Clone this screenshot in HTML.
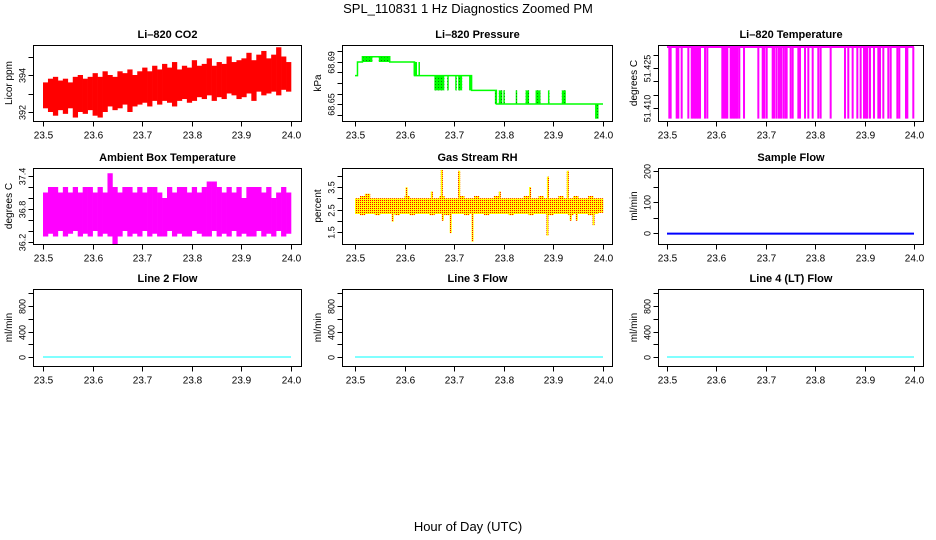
<!DOCTYPE html>
<html><head><meta charset="utf-8"><style>
html,body{margin:0;padding:0;background:#fff;}
svg{display:block;font-family:"Liberation Sans",sans-serif;}
</style></head><body>
<svg id="chart" width="936" height="540" viewBox="0 0 936 540" xmlns="http://www.w3.org/2000/svg">
<defs>
<pattern id="dots" width="2" height="2" patternUnits="userSpaceOnUse"><rect x="0" y="0" width="1" height="1" fill="#ff0000"/></pattern>
<pattern id="gdots" width="3" height="3" patternUnits="userSpaceOnUse"><rect width="1" height="1" fill="#008800"/></pattern>
</defs>
<text x="468" y="13" text-anchor="middle" font-size="13">SPL_110831  1 Hz Diagnostics Zoomed PM</text>
<text x="468" y="531" text-anchor="middle" font-size="13">Hour of Day (UTC)</text>
</svg>
<script>
// ---- data ----
const xTicks = [23.5, 23.6, 23.7, 23.8, 23.9, 24.0];
const xTickLabels = ["23.5", "23.6", "23.7", "23.8", "23.9", "24.0"];

const co2Lo = [392.2,392.0,391.8,392.1,391.9,392.2,391.7,392.0,391.9,392.1,391.8,391.7,392.0,392.3,392.1,392.2,392.4,392.0,392.3,392.4,392.5,392.3,392.6,392.4,392.6,392.5,392.3,392.6,392.7,392.5,392.6,392.8,392.7,392.9,392.6,392.8,392.7,393.0,392.9,392.7,392.8,393.0,392.6,393.1,392.9,393.0,393.1,392.9,393.2,393.1];
const co2Hi = [393.6,393.8,393.9,393.7,393.8,393.6,393.9,394.0,393.8,393.9,394.1,393.9,394.2,394.0,393.9,394.2,394.1,394.3,394.0,394.2,394.4,394.2,394.5,394.3,394.6,394.4,394.7,394.3,394.5,394.4,394.8,394.5,394.6,394.9,394.5,394.7,394.6,395.0,394.7,394.8,394.9,395.2,394.8,395.1,395.3,394.9,395.1,395.5,395.0,394.7];
const co2Ticks = [392, 393, 394, 395];
const co2TickLabels = ["392", "", "394", ""];

const presStepT = [23.500, 23.505, 23.515, 23.570, 23.620, 23.735, 23.785, 24.000];
const presStepV = [68.677, 68.690, 68.695, 68.690, 68.677, 68.663, 68.650, 68.650];
const presBlkT0 = [23.515,23.548,23.618,23.628,23.660,23.686,23.702,23.708,23.730,23.782,23.790,23.799,23.824,23.844,23.864,23.889,23.917,23.984];
const presBlkT1 = [23.535,23.570,23.625,23.631,23.680,23.689,23.705,23.716,23.736,23.786,23.797,23.802,23.826,23.851,23.874,23.891,23.925,23.991];
const presBlkLo = [68.690,68.690,68.677,68.677,68.663,68.663,68.663,68.663,68.663,68.650,68.650,68.650,68.650,68.650,68.650,68.650,68.650,68.636];
const presBlkHi = [68.695,68.695,68.690,68.690,68.677,68.677,68.677,68.677,68.677,68.663,68.663,68.663,68.663,68.663,68.663,68.663,68.663,68.650];
const presTicks = [68.64,68.65,68.66,68.67,68.68,68.69,68.70];
const presTickLabels = ["","68.65","","","","68.69",""];

const tempTop = 51.433;
const tempDropT = [23.5047,23.5074,23.5196,23.523,23.5297,23.5432,23.550,23.5533,23.5567,23.560,23.5634,23.5668,23.577,23.5816,23.612,23.6154,23.6188,23.6221,23.6289,23.6322,23.6356,23.639,23.6424,23.6464,23.6559,23.6849,23.6937,23.697,23.7018,23.7139,23.7173,23.722,23.7267,23.7308,23.7355,23.7395,23.7422,23.7503,23.7544,23.7659,23.7692,23.7794,23.7861,23.7949,23.8063,23.811,23.8313,23.8603,23.867,23.8758,23.8853,23.892,23.8988,23.9028,23.9055,23.9109,23.919,23.9278,23.9312,23.9379,23.948,23.9528,23.9663,23.9703,23.9838,23.9865,23.9986];
const tempDropV = 51.406;
const tempTicks = [51.410,51.415,51.420,51.425,51.430];
const tempTickLabels = ["51.410","","","51.425",""];

const ambLo = [36.3,36.35,36.3,36.4,36.3,36.35,36.4,36.3,36.35,36.3,36.4,36.3,36.35,36.3,36.15,36.3,36.4,36.3,36.35,36.3,36.4,36.3,36.35,36.3,36.3,36.4,36.3,36.35,36.3,36.3,36.4,36.35,36.3,36.3,36.4,36.3,36.35,36.3,36.4,36.3,36.35,36.3,36.3,36.4,36.3,36.35,36.3,36.4,36.3,36.35];
const ambHi = [37.1,37.2,37.2,37.1,37.2,37.1,37.2,37.1,37.2,37.2,37.1,37.2,37.1,37.45,37.2,37.1,37.2,37.2,37.1,37.2,37.1,37.2,37.2,37.1,37.0,37.2,37.1,37.2,37.2,37.1,37.2,37.1,37.2,37.3,37.3,37.2,37.1,37.2,37.1,37.2,37.0,37.2,37.2,37.2,37.1,37.2,37.0,37.1,37.2,37.1];
const ambTicks = [36.2,36.4,36.6,36.8,37.0,37.2,37.4];
const ambTickLabels = ["36.2","","","36.8","","","37.4"];

const rhLo = [2.3,2.25,2.3,2.3,2.25,2.3,2.3,2.3,2.25,2.3,2.3,2.25,2.3,2.3,2.3,2.25,2.3,2.3,2.25,2.3,2.3,2.3,2.25,2.3,2.3,2.3,2.25,2.3,2.3,2.3,2.3,2.25,2.3,2.3,2.3,2.25,2.3,2.3,2.3,2.25,2.3,2.3,2.3,2.25,2.3,2.3,2.3,2.25,2.3,2.35];
const rhHi = [3.0,3.1,3.2,3.0,3.0,3.0,3.0,3.0,3.0,3.0,3.1,3.0,3.0,3.0,3.0,3.0,3.0,3.1,3.0,3.0,3.0,3.1,3.0,3.0,3.1,3.0,3.0,3.0,3.1,3.0,3.0,3.0,3.0,3.0,3.1,3.0,3.0,3.1,3.0,3.0,3.0,3.1,3.0,3.0,3.1,3.0,3.0,3.1,3.0,3.0];
const rhSpikeT = [23.576,23.604,23.655,23.675,23.677,23.693,23.710,23.737,23.792,23.853,23.888,23.889,23.929,23.935,23.947,23.981];
const rhSpikeV = [1.96,3.49,3.3,4.26,2.0,1.45,4.22,1.07,3.3,3.5,1.34,3.96,4.22,2.0,2.0,1.8];
const rhTicks = [1.5,2.0,2.5,3.0,3.5,4.0];
const rhTickLabels = ["1.5","","2.5","","3.5",""];

const sampleFlowV = [-2, -2];
const line2FlowV = [0, 0];
const line3FlowV = [0, 0];
const line4FlowV = [0, 0];
const flowT = [23.5, 24.0];
const sampleTicks = [0,50,100,150,200];
const sampleTickLabels = ["0","","100","","200"];
const lineTicks = [0,200,400,600,800,1000];
const lineTickLabels = ["0","","400","","800",""];

// ---- drawing helpers ----
const NS = "http://www.w3.org/2000/svg";
const svg = document.getElementById('chart');
function mk(tag, attrs, parent){
  const e = document.createElementNS(NS, tag);
  for (const k in attrs) e.setAttribute(k, attrs[k]);
  (parent||svg).appendChild(e);
  return e;
}
const cols = [{l:33,r:302,x0:43,x1:291},{l:342,r:613,x0:355,x1:603},{l:658,r:924,x0:667,x1:914}];
const rows = [{t:45,b:121},{t:168,b:244},{t:289,b:366}];

function panel(name, title, ylabel, c, r, yv0, yp0, yv1, yp1, ticks, tickLabels){
  const col = cols[c], row = rows[r];
  const g = mk('g', {});
  
  
  const xs = v => col.x0 + (v - 23.5) / 0.5 * (col.x1 - col.x0);
  const ys = v => yp0 + (v - yv0) / (yv1 - yv0) * (yp1 - yp0);
  const clipId = 'clip-' + name;
  const cp = mk('clipPath', {id: clipId}, g);
  mk('rect', {x: col.l, y: row.t, width: col.r - col.l, height: row.b - row.t}, cp);
  const plot = mk('g', {'clip-path': 'url(#' + clipId + ')'}, g);
  
  
  const tt = mk('text', {x: (col.l + col.r) / 2, y: row.t - 7, 'text-anchor': 'middle', 'font-size': 11, 'font-weight': 'bold'}, g);
  tt.textContent = title;
  
  
  const yl = mk('text', {transform: 'translate(' + (col.l - 21) + ',' + ((row.t + row.b) / 2) + ') rotate(-90)', 'text-anchor': 'middle', 'font-size': 10}, g);
  yl.textContent = ylabel;
  
  
  const fr = mk('rect', {x: col.l + 0.5, y: row.t + 0.5, width: col.r - col.l - 1, height: row.b - row.t, fill: 'none', stroke: '#000', 'stroke-width': 1}, g);
  
  
  const xa = mk('g', {}, g);
  
  
  const by = row.b + 0.5;
  mk('line', {x1: xs(xTicks[0]), x2: xs(xTicks[xTicks.length - 1]), y1: by, y2: by, stroke: '#000'}, xa);
  xTicks.forEach((v, i) => {
    const x = Math.round(xs(v)) + 0.5;
    mk('line', {x1: x, x2: x, y1: by, y2: by + 5, stroke: '#000'}, xa);
    const t = mk('text', {x: x, y: by + 17, 'text-anchor': 'middle', 'font-size': 10}, xa);
    t.textContent = xTickLabels[i];
    
    
  });
  const ya = mk('g', {}, g);
  
  
  const lx = col.l + 0.5;
  mk('line', {x1: lx, x2: lx, y1: ys(ticks[0]), y2: ys(ticks[ticks.length - 1]), stroke: '#000'}, ya);
  ticks.forEach((v, i) => {
    const y = Math.round(ys(v)) + 0.5;
    mk('line', {x1: lx - 5, x2: lx, y1: y, y2: y, stroke: '#000'}, ya);
    if (tickLabels[i]) {
      const t = mk('text', {transform: 'translate(' + (lx - 8) + ',' + y + ') rotate(-90)', 'text-anchor': 'middle', 'font-size': 9}, ya);
      t.textContent = tickLabels[i];
      
      
    }
  });
  return {plot, xs, ys};
}

function bands(p, lo, hi, fill, nameBase){
  const n = lo.length, w = 0.5 / n;
  lo.forEach((v, i) => {
    const x0 = p.xs(23.5 + i * w), x1 = p.xs(23.5 + (i + 1) * w);
    const y0 = p.ys(hi[i]), y1 = p.ys(v);
    const r = mk('rect', {x: x0, y: Math.min(y0, y1), width: x1 - x0 + 0.3, height: Math.abs(y1 - y0), fill: fill}, p.plot);
    
    
  });
}

// CO2
const pCo2 = panel('co2', 'Li\u2013820 CO2', 'Licor ppm', 0, 0, 392, 112, 394, 75, co2Ticks, co2TickLabels);
bands(pCo2, co2Lo, co2Hi, '#ff0000', 'co2-band');

// Pressure
const pPres = panel('pressure', 'Li\u2013820 Pressure', 'kPa', 1, 0, 68.65, 104, 68.69, 62, presTicks, presTickLabels);
presBlkT0.forEach((t, i) => {
  const a = {x: pPres.xs(t), y: pPres.ys(presBlkHi[i]), width: Math.max(1.5, pPres.xs(presBlkT1[i]) - pPres.xs(t)), height: pPres.ys(presBlkLo[i]) - pPres.ys(presBlkHi[i])};
  const r = mk('rect', Object.assign({fill: '#00ff00'}, a), pPres.plot);
  
  
  mk('rect', Object.assign({fill: 'url(#gdots)'}, a), pPres.plot);
});
{
  let d = '';
  for (let i = 0; i < presStepT.length; i++) {
    const x = pPres.xs(presStepT[i]), y = pPres.ys(presStepV[i]);
    if (i === 0) d += 'M' + x + ',' + y;
    else d += 'V' + y + 'H' + x;
    if (i < presStepT.length - 1) d += 'H' + pPres.xs(presStepT[i + 1]);
  }
  const l = mk('path', {d: d, fill: 'none', stroke: '#00ff00', 'stroke-width': 1.5}, pPres.plot);
  
  
}

// Li-820 temperature
const pTemp = panel('li820-temp', 'Li\u2013820 Temperature', 'degrees C', 2, 0, 51.410, 108, 51.430, 55, tempTicks, tempTickLabels);
{
  const l = mk('line', {x1: pTemp.xs(23.5), x2: pTemp.xs(24.0), y1: pTemp.ys(tempTop), y2: pTemp.ys(tempTop), stroke: '#ff00ff', 'stroke-width': 2}, pTemp.plot);
  
  
}
tempDropT.forEach(t => {
  const r = mk('rect', {x: pTemp.xs(t) - 1, y: pTemp.ys(tempTop), width: 2, height: pTemp.ys(tempDropV) - pTemp.ys(tempTop), fill: '#ff00ff'}, pTemp.plot);
  
  
});

// Ambient box
const pAmb = panel('ambient-temp', 'Ambient Box Temperature', 'degrees C', 0, 1, 36.2, 242, 37.4, 176, ambTicks, ambTickLabels);
bands(pAmb, ambLo, ambHi, '#ff00ff', 'ambient-band');

// Gas stream RH
const pRh = panel('rh', 'Gas Stream RH', 'percent', 1, 1, 1.5, 232, 3.5, 187, rhTicks, rhTickLabels);
bands(pRh, rhLo, rhHi, '#ffff00', 'rh-band');
bands(pRh, rhLo, rhHi, 'url(#dots)', 'rh-band-dots');
rhSpikeT.forEach((t, i) => {
  const base = rhSpikeV[i] > 2.7 ? 3.0 : 2.3;
  const y0 = pRh.ys(Math.max(base, rhSpikeV[i])), y1 = pRh.ys(Math.min(base, rhSpikeV[i]));
  const r = mk('rect', {x: pRh.xs(t) - 1, y: y0, width: 2, height: y1 - y0, fill: '#ffff00'}, pRh.plot);
  
  
  mk('rect', {x: pRh.xs(t) - 1, y: y0, width: 2, height: y1 - y0, fill: 'url(#dots)'}, pRh.plot);
});

// Sample flow
const pSf = panel('sample-flow', 'Sample Flow', 'ml/min', 2, 1, 0, 233, 200, 171, sampleTicks, sampleTickLabels);
{
  const l = mk('line', {x1: pSf.xs(flowT[0]), x2: pSf.xs(flowT[1]), y1: pSf.ys(sampleFlowV[0]), y2: pSf.ys(sampleFlowV[1]), stroke: '#0000ff', 'stroke-width': 2}, pSf.plot);
  
  
}

// Line flows
[['line2-flow','Line 2 Flow',line2FlowV,0],['line3-flow','Line 3 Flow',line3FlowV,1],['line4-flow','Line 4 (LT) Flow',line4FlowV,2]].forEach(a => {
  const p = panel(a[0], a[1], 'ml/min', a[3], 2, 0, 357, 800, 306, lineTicks, lineTickLabels);
  const l = mk('line', {x1: p.xs(flowT[0]), x2: p.xs(flowT[1]), y1: p.ys(a[2][0]), y2: p.ys(a[2][1]), stroke: '#00ffff', 'stroke-width': 1}, p.plot);
  
  
});
</script>
</body></html>
